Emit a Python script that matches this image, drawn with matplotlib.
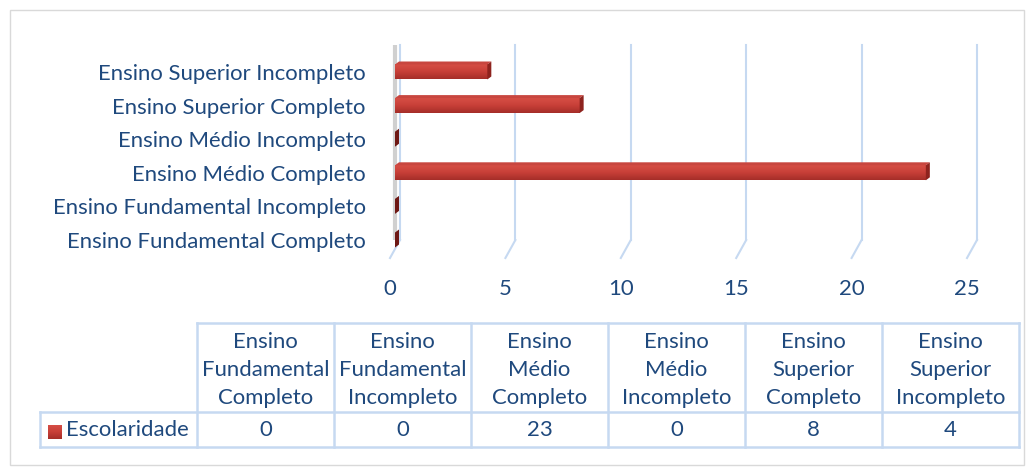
import matplotlib
matplotlib.use('Agg')
import matplotlib.pyplot as plt
from matplotlib.patches import Polygon, Rectangle
from matplotlib.colors import LinearSegmentedColormap
from matplotlib.transforms import blended_transform_factory
import numpy as np

# ---------------- data ----------------
categories = ['Ensino Fundamental Completo', 'Ensino Fundamental Incompleto',
              'Ensino Médio Completo', 'Ensino Médio Incompleto',
              'Ensino Superior Completo', 'Ensino Superior Incompleto']
header_labels = ['Ensino\nFundamental\nCompleto', 'Ensino\nFundamental\nIncompleto',
                 'Ensino\nMédio\nCompleto', 'Ensino\nMédio\nIncompleto',
                 'Ensino\nSuperior\nCompleto', 'Ensino\nSuperior\nIncompleto']
values = [0, 0, 23, 0, 8, 4]
series_name = 'Escolaridade'
x_ticks = [0, 5, 10, 15, 20, 25]

# ---------------- style ----------------
W, H = 1034, 472
FONT = 'Lato'
FS = 15.9
TXT = '#1F497D'
GRID = '#C6D9F1'
BORDER = '#C6D9F1'
plt.rcParams['font.family'] = [FONT, 'DejaVu Sans']

fig = plt.figure(figsize=(W / 100, H / 100), dpi=100)

def px_axes(l, t, r, b):
    return [l / W, 1 - b / H, (r - l) / W, (b - t) / H]

ov = fig.add_axes([0, 0, 1, 1], zorder=0)
ov.set_xlim(0, W)
ov.set_ylim(H, 0)
ov.axis('off')
ov.add_patch(Rectangle((10, 10), 1014, 455, fill=False, ec='#D9D9D9', lw=1))

# ---------------- bar chart ----------------
PL, PT, PR, PB = 395, 45, 972, 258
ax = fig.add_axes(px_axes(PL, PT, PR, PB), zorder=1)
ax.patch.set_alpha(0)
ax.set_xlim(0, 25)
row_px = 33.6
y0_px = 240
ax.set_ylim((y0_px - PB) / row_px, (y0_px - PT) / row_px)
for s in ax.spines.values():
    s.set_visible(False)
ax.set_xticks([])
ax.set_yticks(range(len(categories)))
ax.set_yticklabels(categories, fontsize=FS, color=TXT)
ax.tick_params(axis='y', length=0, pad=21)

# pixel -> data scale
p0 = ax.transData.transform((0, 0))
p1 = ax.transData.transform((1, 1))
kx = 1 / (p1[0] - p0[0])
ky = 1 / (p1[1] - p0[1])

bt = blended_transform_factory(ax.transData, ax.transAxes)
y_corner = (PB - y0_px) / (PB - PT)
for t in x_ticks:
    ax.plot([t + 5 * kx, t + 5 * kx], [1, y_corner], color=GRID, lw=1.5, transform=bt,
            zorder=1, clip_on=False)
    ax.plot([t + 5 * kx, t - 5 * kx], [y_corner, 0], color=GRID, lw=1.5, transform=bt,
            zorder=1, clip_on=False)
    ax.text(t - 5 * kx, (PB - 289) / (PB - PT), str(t), transform=bt, ha='center', va='center',
            fontsize=FS, color=TXT)
# left wall edge
ax.plot([0, 0], [1, y_corner], color='#D0D0D0', lw=3, transform=bt, zorder=1,
        solid_capstyle='butt', clip_on=False)

cmap = LinearSegmentedColormap.from_list('bar', ['#D64E45', '#C73F38', '#A52E29'])
grad = np.linspace(0, 1, 64).reshape(-1, 1)
bh = 15 * ky
ox, oy = 4 * kx, 3 * ky
for i, v in enumerate(values):
    yb, yt = i - bh / 2, i + bh / 2
    if v > 0:
        ax.imshow(grad, cmap=cmap, extent=[0, v, yb, yt], aspect='auto', origin='upper',
                  zorder=3, interpolation='bilinear')
        ax.add_patch(Polygon([(0, yt), (v, yt), (v + ox, yt + oy), (ox, yt + oy)],
                             closed=True, fc='#C8463F', ec='none', zorder=3))
        side_c = '#8E231E'
    else:
        side_c = '#6E1814'
    ax.add_patch(Polygon([(v, yb), (v, yt), (v + ox, yt + oy), (v + ox, yb + oy)],
                         closed=True, fc=side_c, ec='none', zorder=3))
ax.set_xlim(0, 25)
ax.set_ylim((y0_px - PB) / row_px, (y0_px - PT) / row_px)

# ---------------- data table ----------------
col_x = [197 + 137 * j for j in range(len(categories) + 1)]
t_top, t_mid, t_bot = 323, 412, 447
lw = 1.8
ov.plot([col_x[0], col_x[-1]], [t_top, t_top], color=BORDER, lw=lw)
ov.plot([40, col_x[-1]], [t_mid, t_mid], color=BORDER, lw=lw)
ov.plot([40, col_x[-1]], [t_bot, t_bot], color=BORDER, lw=lw)
ov.plot([40, 40], [t_mid, t_bot], color=BORDER, lw=lw)
for cx in col_x:
    ov.plot([cx, cx], [t_top, t_bot], color=BORDER, lw=lw)
for j, (lab, v) in enumerate(zip(header_labels, values)):
    cx = (col_x[j] + col_x[j + 1]) / 2
    ov.text(cx, (t_top + t_mid) / 2 + 2, lab, ha='center', va='center', fontsize=FS,
            color=TXT, linespacing=1.5)
    ov.text(cx, (t_mid + t_bot) / 2, str(v), ha='center', va='center', fontsize=FS, color=TXT)
ov.imshow(grad, cmap=cmap, extent=[48, 62, 439, 425], aspect='auto', zorder=2)
ov.set_xlim(0, W)
ov.set_ylim(H, 0)
ov.text(66, (t_mid + t_bot) / 2, series_name, ha='left', va='center', fontsize=FS, color=TXT)

fig.savefig('out.png', dpi=100)
